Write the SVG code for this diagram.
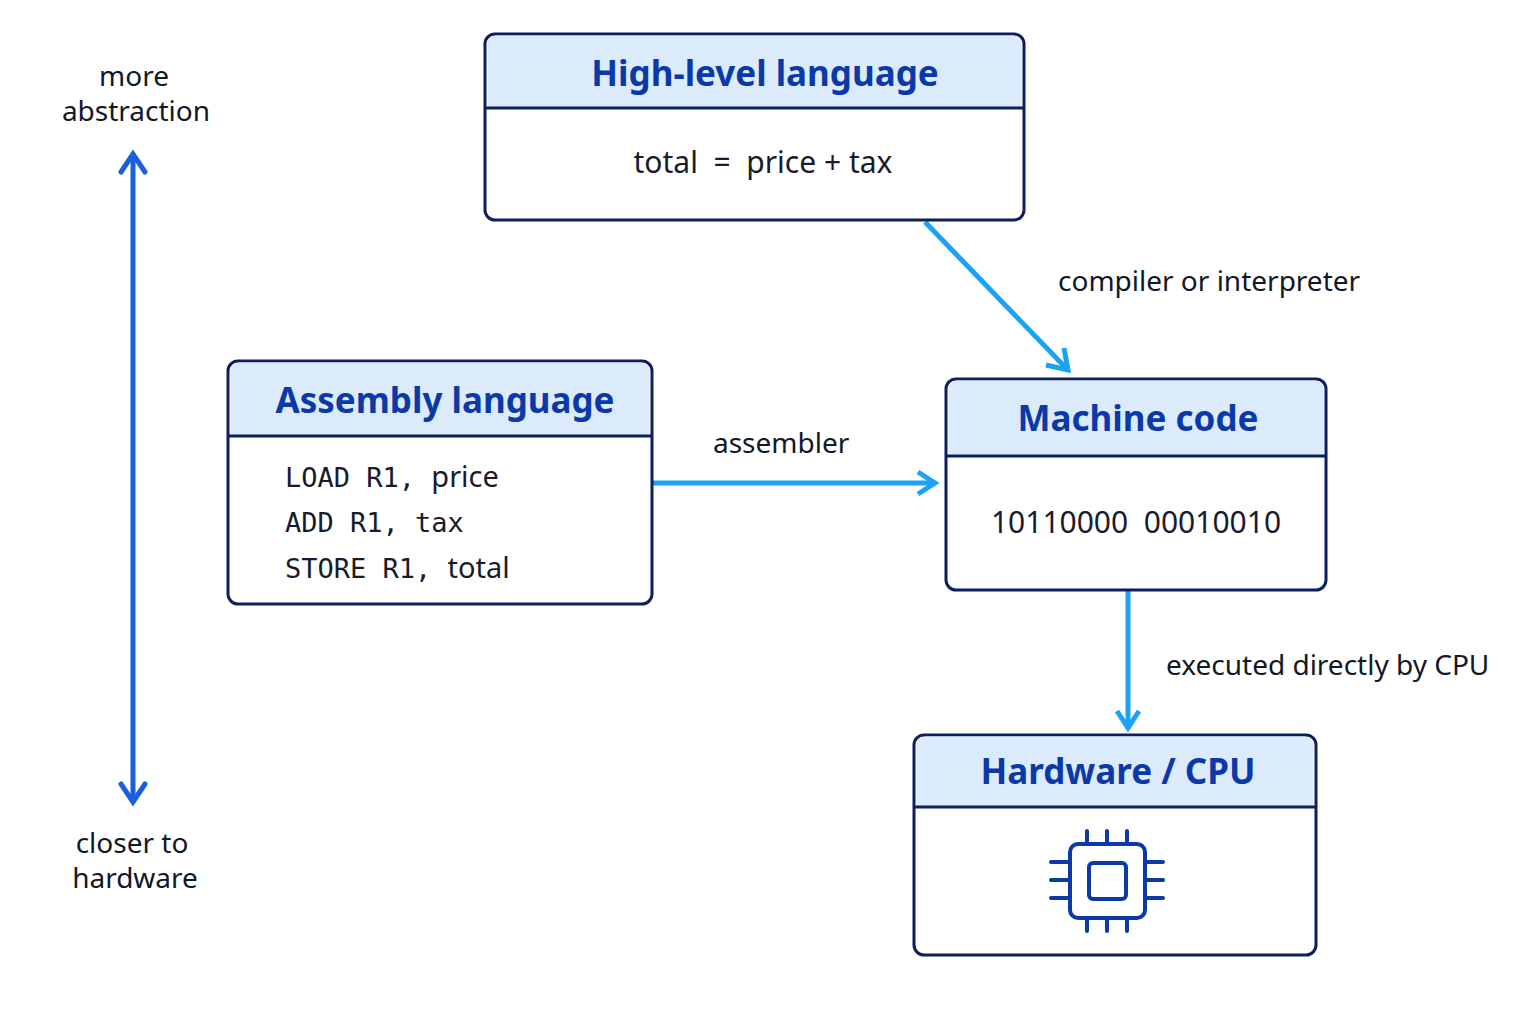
<svg xmlns="http://www.w3.org/2000/svg" width="1536" height="1024" viewBox="0 0 1536 1024">
<style>
.box{fill:#fff;stroke:#0d1f5c;stroke-width:3}
.hdr{fill:#dcebfb}
.div{stroke:#0d1f5c;stroke-width:3}
.title{font-family:"Noto Sans","Open Sans",sans-serif;font-weight:700;font-size:35px;fill:#0b3aa8;text-anchor:middle}
.body{font-family:"Noto Sans",sans-serif;font-size:29px;fill:#1a1a2e}
.big{font-size:30px}
.mono{font-family:"DejaVu Sans Mono","Liberation Mono",monospace;font-size:27px;fill:#1a1a2e}
.lbl{font-family:"Noto Sans",sans-serif;font-size:28px;fill:#111827}
.conn{stroke:#1aa3f5;stroke-width:5;fill:none}
.ax{stroke:#1a5fe0;stroke-width:5;fill:none}
.chip{stroke:#0b3aa8;stroke-width:4;fill:none;stroke-linecap:round}
</style>
<rect width="1536" height="1024" fill="#fff"/>
<g id="axis">
<line class="ax" x1="133" y1="156" x2="133" y2="800"/>
<polyline class="ax" points="121,172 133,154 145,172" stroke-linecap="round"/>
<polyline class="ax" points="121,784 133,802 145,784" stroke-linecap="round"/>
<text class="lbl" x="134" y="86" text-anchor="middle">more</text>
<text class="lbl" x="136" y="121" text-anchor="middle">abstraction</text>
<text class="lbl" x="132" y="853" text-anchor="middle">closer to</text>
<text class="lbl" x="135" y="888" text-anchor="middle">hardware</text>
</g>
<g id="connectors">
<line class="conn" x1="925" y1="222" x2="1066" y2="368"/>
<polyline class="conn" points="1046,365 1068,370 1064,348"/>
<line class="conn" x1="653" y1="483" x2="934" y2="483"/>
<polyline class="conn" points="918,472 935,483 918,494"/>
<line class="conn" x1="1128" y1="590" x2="1128" y2="728"/>
<polyline class="conn" points="1117,711 1128,728 1139,711"/>
<text class="lbl" x="1058" y="291">compiler or interpreter</text>
<text class="lbl" x="713" y="453">assembler</text>
<text class="lbl" x="1166" y="675">executed directly by CPU</text>
</g>
<g id="high">
<rect class="box" x="485" y="34" width="539" height="186" rx="10"/>
<path class="hdr" d="M496.5,35.5 h516 a9,9 0 0 1 9,9 v63 h-534 v-63 a9,9 0 0 1 9,-9z"/>
<line class="div" x1="485" y1="108" x2="1024" y2="108"/>
<text class="title" x="765" y="86">High-level language</text>
<text class="body big" x="763" y="173" text-anchor="middle" xml:space="preserve">total  =  price + tax</text>
</g>
<g id="asm">
<rect class="box" x="228" y="361" width="424" height="243" rx="10"/>
<path class="hdr" d="M239.5,362.5 h401 a9,9 0 0 1 9,9 v64 h-419 v-64 a9,9 0 0 1 9,-9z"/>
<line class="div" x1="228" y1="436" x2="652" y2="436"/>
<text class="title" x="445" y="413">Assembly language</text>
<text class="mono" x="285" y="487">LOAD R1, <tspan class="body">price</tspan></text>
<text class="mono" x="285" y="532">ADD R1, tax</text>
<text class="mono" x="285" y="578">STORE R1, <tspan class="body">total</tspan></text>
</g>
<g id="machine">
<rect class="box" x="946" y="379" width="380" height="211" rx="10"/>
<path class="hdr" d="M957.5,380.5 h357 a9,9 0 0 1 9,9 v66 h-375 v-66 a9,9 0 0 1 9,-9z"/>
<line class="div" x1="946" y1="456" x2="1326" y2="456"/>
<text class="title" x="1138" y="431">Machine code</text>
<text class="body big" x="1136" y="533" text-anchor="middle" xml:space="preserve">10110000  00010010</text>
</g>
<g id="cpu">
<rect class="box" x="914" y="735" width="402" height="220" rx="10"/>
<path class="hdr" d="M925.5,736.5 h379 a9,9 0 0 1 9,9 v61 h-397 v-61 a9,9 0 0 1 9,-9z"/>
<line class="div" x1="914" y1="807" x2="1316" y2="807"/>
<text class="title" x="1118" y="784">Hardware / CPU</text>
<rect class="chip" x="1070" y="844" width="75" height="74" rx="8"/>
<rect class="chip" x="1089" y="863" width="37" height="36" rx="4"/>
<path class="chip" d="M1087,831v13M1107,831v13M1127,831v13M1087,918v13M1107,918v13M1127,918v13M1051,862h19M1051,880h19M1051,898h19M1145,862h18M1145,880h18M1145,898h18"/>
</g>
</svg>
